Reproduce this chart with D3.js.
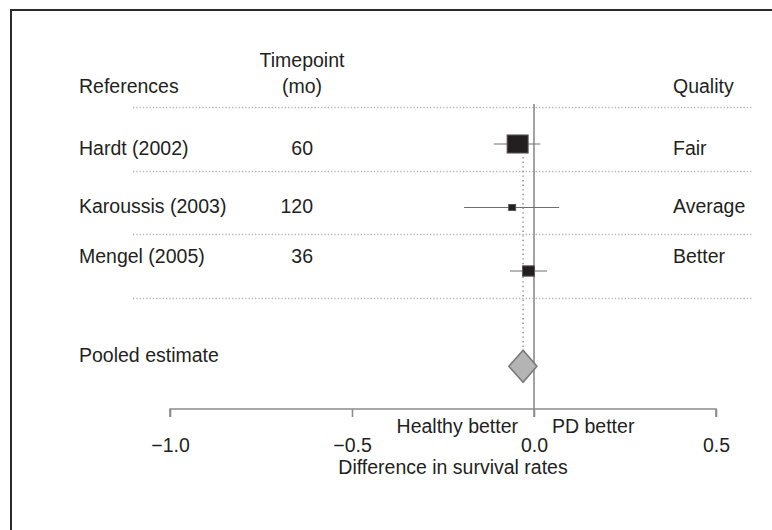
<!DOCTYPE html>
<html>
<head>
<meta charset="utf-8">
<script src="https://cdn.jsdelivr.net/npm/d3@7"></script>
<style>
  html, body { margin: 0; padding: 0; background: #fff; }
  svg text { font-family: "Liberation Sans", Arial, sans-serif; fill: #231f20; }
</style>
</head>
<body>
<svg id="chart" width="772" height="530"></svg>
<script>
// Studies in the meta-analysis
const studies   = ["Hardt (2002)", "Karoussis (2003)", "Mengel (2005)"];
const timepoint = ["60", "120", "36"];
const quality   = ["Fair", "Average", "Better"];
const estimate  = [-0.045, -0.060, -0.015];
const ciLow     = [-0.110, -0.192, -0.066];
const ciHigh    = [ 0.017,  0.069,  0.036];
const weight    = [69.6, 7.7, 22.7];

// Pooled result
const pooledLabel = "Pooled estimate";
const pooled      = { est: -0.030, lo: -0.069, hi: 0.008 };

// Axis
const xTicks      = [-1.0, -0.5, 0.0, 0.5];
const xTitle      = "Difference in survival rates";
const leftFavour  = "Healthy better";
const rightFavour = "PD better";

const svg = d3.select("#chart");
const fontSize = 19.5;

// frame
svg.append("path")
  .attr("d", "M11,530 V10 H772")
  .attr("fill", "none").attr("stroke", "#2b2b2b").attr("stroke-width", 2);

const x = d3.scaleLinear().domain([-1, 0.5]).range([170, 716]);
// row index -> vertical position (pooled sits one and a half rows below the last study)
const y = d3.scaleLinear().domain([0, 1]).range([144, 207.5]);
const pooledRow = studies.length + 0.5;
const labelNudge = [11, 5, -8];
const colRef = 79, colTime = 313, colQual = 673;
const axisY = 409;

// dotted separators between rows
const seps = d3.range(studies.length + 1).map(i => i - 0.58);
svg.append("g").selectAll("line").data(seps).join("line")
  .attr("x1", 133).attr("x2", 753)
  .attr("y1", d => Math.round(y(d)) + 0.5).attr("y2", d => Math.round(y(d)) + 0.5)
  .attr("stroke", "#b5b5b5").attr("stroke-width", 1.3)
  .attr("stroke-dasharray", "1.3 2");

// column headers
const hdr = svg.append("g").attr("font-size", fontSize);
hdr.append("text").attr("x", colRef).attr("y", 93).text("References");
hdr.append("text").attr("x", 302).attr("y", 67).attr("text-anchor", "middle").text("Timepoint");
hdr.append("text").attr("x", 302).attr("y", 93).attr("text-anchor", "middle").text("(mo)");
hdr.append("text").attr("x", colQual).attr("y", 93).text("Quality");

// study rows text
const rows = svg.append("g").attr("font-size", fontSize);
studies.forEach((s, i) => {
  const ty = y(i) + labelNudge[i];
  rows.append("text").attr("x", colRef).attr("y", ty).text(s);
  rows.append("text").attr("x", colTime).attr("y", ty).attr("text-anchor", "end").text(timepoint[i]);
  rows.append("text").attr("x", colQual).attr("y", ty).text(quality[i]);
});
rows.append("text").attr("x", colRef).attr("y", y(pooledRow) - 4).text(pooledLabel);

// line of no effect
svg.append("line")
  .attr("x1", x(0)).attr("x2", x(0))
  .attr("y1", 104).attr("y2", axisY + 8)
  .attr("stroke", "#8c8c8c").attr("stroke-width", 1.6);

// pooled estimate reference line
const dHalfH = 16;
svg.append("line")
  .attr("x1", x(pooled.est)).attr("x2", x(pooled.est))
  .attr("y1", y(0) + 13).attr("y2", y(pooledRow) - dHalfH)
  .attr("stroke", "#8a8a8a").attr("stroke-width", 1.4)
  .attr("stroke-dasharray", "1.4 3.2");

// confidence intervals
svg.append("g").selectAll("line").data(studies).join("line")
  .attr("x1", (d, i) => x(ciLow[i])).attr("x2", (d, i) => x(ciHigh[i]))
  .attr("y1", (d, i) => y(i)).attr("y2", (d, i) => y(i))
  .attr("stroke", "#6e6e6e").attr("stroke-width", 1.2);

// weighted point estimates
const size = d3.scaleSqrt().domain([0, d3.max(weight)]).range([0, 21]);
svg.append("g").selectAll("rect").data(studies).join("rect")
  .attr("x", (d, i) => x(estimate[i]) - size(weight[i]) / 2)
  .attr("y", (d, i) => y(i) - size(weight[i]) * 0.43)
  .attr("width", (d, i) => size(weight[i]))
  .attr("height", (d, i) => size(weight[i]) * 0.86)
  .attr("fill", "#231f20").attr("stroke", "#555").attr("stroke-width", 1);

// pooled diamond
const py = y(pooledRow);
svg.append("path")
  .attr("d", `M${x(pooled.lo)},${py} L${x(pooled.est)},${py - dHalfH} L${x(pooled.hi)},${py} L${x(pooled.est)},${py + dHalfH} Z`)
  .attr("fill", "#b4b4b4").attr("stroke", "#7a7a7a").attr("stroke-width", 1.6);

// x axis
const axis = svg.append("g").attr("transform", `translate(0,${axisY})`)
  .call(d3.axisBottom(x).tickValues(xTicks).tickSize(8).tickPadding(21)
        .tickFormat(d => d3.format(".1f")(d).replace("-", "\u2212")));
axis.select(".domain").attr("stroke", "#8c8c8c").attr("stroke-width", 1.6)
  .attr("d", `M${x(-1)},8 V0 H${x(0.5)} V8`);
axis.selectAll(".tick line").attr("stroke", "#8c8c8c").attr("stroke-width", 1.6);
axis.selectAll(".tick text").attr("font-size", fontSize).attr("fill", "#231f20")
  .attr("font-family", "Liberation Sans, Arial, sans-serif");

svg.append("text").attr("font-size", fontSize)
  .attr("x", x(0) - 16).attr("y", 433).attr("text-anchor", "end").text(leftFavour);
svg.append("text").attr("font-size", fontSize)
  .attr("x", x(0) + 18).attr("y", 433).text(rightFavour);
svg.append("text").attr("font-size", fontSize)
  .attr("x", 453).attr("y", 474).attr("text-anchor", "middle").text(xTitle);
</script>
</body>
</html>
